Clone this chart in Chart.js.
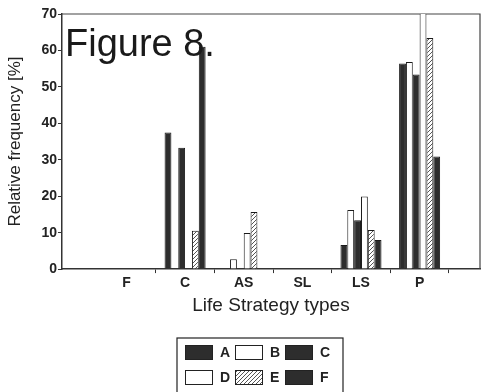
<!DOCTYPE html>
<html>
<head>
<meta charset="utf-8">
<script src="https://cdn.jsdelivr.net/npm/chart.js@4.4.1/dist/chart.umd.min.js"></script>
<style>
  html, body { margin: 0; padding: 0; background: #fff; }
</style>
</head>
<body>
<canvas id="lifeChart" width="483" height="392"></canvas>
<script>
const categories = ["F", "C", "AS", "SL", "LS", "P"];
const seriesNames = ["A", "B", "C", "D", "E", "F"];
const valuesA = [0, 37.5, 0, 0, 6.6, 56.4];
const valuesB = [0, 0, 2.7, 0, 16.2, 56.8];
const valuesC = [0, 33.3, 0, 0, 13.4, 53.4];
const valuesD = [0, 0, 9.9, 0, 19.9, 71];
const valuesE = [0, 10.5, 15.7, 0, 10.7, 63.4];
const valuesF = [0, 61, 0, 0, 8.0, 30.9];
const yTicks = [0, 10, 20, 30, 40, 50, 60, 70];

const FONT = '"Liberation Sans", Arial, sans-serif';
const INK = "#222";

// diagonal hatch used for series E
function hatch() {
  const c = document.createElement("canvas");
  c.width = 4; c.height = 4;
  const g = c.getContext("2d");
  g.fillStyle = "#fff";
  g.fillRect(0, 0, 4, 4);
  g.strokeStyle = "#555";
  g.lineWidth = 1;
  g.beginPath();
  g.moveTo(0, 4); g.lineTo(4, 0);
  g.moveTo(-1, 1); g.lineTo(1, -1);
  g.moveTo(3, 5); g.lineTo(5, 3);
  g.stroke();
  return g.createPattern(c, "repeat");
}

const dark = "#2d2d2d";
const fills = [dark, "#fff", dark, "#fff", hatch(), dark];
const allValues = [valuesA, valuesB, valuesC, valuesD, valuesE, valuesF];

// top and right edges of the plot frame
const frame = {
  id: "frame",
  beforeDatasetsDraw(chart) {
    const { ctx, chartArea: a } = chart;
    ctx.save();
    ctx.strokeStyle = "#444";
    ctx.lineWidth = 1.2;
    ctx.beginPath();
    ctx.moveTo(a.left, a.top);
    ctx.lineTo(a.right, a.top);
    ctx.lineTo(a.right, a.bottom);
    ctx.stroke();
    ctx.restore();
  }
};

const figureLabel = {
  id: "figureLabel",
  afterDatasetsDraw(chart) {
    const { ctx, chartArea: a } = chart;
    ctx.save();
    ctx.fillStyle = "#1a1a1a";
    ctx.font = "38px " + FONT;
    ctx.textBaseline = "alphabetic";
    ctx.fillText("Figure 8.", a.left + 3, 56);
    ctx.restore();
  }
};

// boxed legend, 3 entries per row
const legendBox = {
  id: "legendBox",
  afterDraw(chart) {
    const ctx = chart.ctx;
    const x0 = 177, y0 = 338;
    ctx.save();
    ctx.strokeStyle = INK;
    ctx.lineWidth = 1.2;
    ctx.strokeRect(x0, y0, 166, 70);
    ctx.font = "bold 14px " + FONT;
    ctx.textBaseline = "middle";
    chart.data.datasets.forEach((ds, i) => {
      const bx = x0 + 8 + (i % 3) * 50;
      const by = y0 + 7 + Math.floor(i / 3) * 25;
      ctx.fillStyle = ds.backgroundColor;
      ctx.fillRect(bx, by, 27, 14);
      ctx.lineWidth = 1;
      ctx.strokeRect(bx + 0.5, by + 0.5, 27, 14);
      ctx.fillStyle = INK;
      ctx.fillText(ds.label, bx + 35, by + 8);
    });
    ctx.restore();
  }
};

new Chart(document.getElementById("lifeChart"), {
  type: "bar",
  data: {
    labels: categories.map((_, i) => i),
    datasets: seriesNames.map((name, i) => ({
      label: name,
      data: allValues[i],
      backgroundColor: fills[i],
      borderColor: "#1a1a1a",
      borderWidth: 1,
      barPercentage: 1,
      categoryPercentage: 0.7
    }))
  },
  options: {
    responsive: false,
    animation: false,
    devicePixelRatio: 1,
    layout: { padding: { top: 14, right: 3, bottom: 75, left: 5 } },
    plugins: { legend: { display: false }, tooltip: { enabled: false } },
    scales: {
      x: {
        type: "linear",
        min: -1.1,
        max: 6.03,
        offset: false,
        afterBuildTicks: s => { s.ticks = categories.map((_, i) => ({ value: i })); },
        ticks: {
          autoSkip: false,
          maxRotation: 0,
          padding: 1.5,
          color: INK,
          font: { family: FONT, size: 14, weight: "bold" },
          callback: v => categories[v]
        },
        grid: {
          offset: true,
          drawOnChartArea: false,
          tickLength: 4,
          tickColor: c => (c.index === 0 ? "rgba(0,0,0,0)" : "#333")
        },
        border: { color: "#333", width: 1.5 },
        title: {
          display: true,
          text: "Life Strategy types",
          color: INK,
          font: { family: FONT, size: 19 },
          padding: { top: 1.3, bottom: 0 }
        }
      },
      y: {
        min: 0,
        max: 70,
        afterBuildTicks: s => { s.ticks = yTicks.map(v => ({ value: v })); },
        ticks: {
          padding: 1,
          color: INK,
          font: { family: FONT, size: 14, weight: "bold" }
        },
        grid: { drawOnChartArea: false, tickLength: 4, color: "#333" },
        border: { color: "#333", width: 1.5 },
        title: {
          display: true,
          text: "Relative frequency [%]",
          color: INK,
          font: { family: FONT, size: 17 },
          padding: { top: 0, bottom: 15 }
        }
      }
    }
  },
  plugins: [frame, figureLabel, legendBox]
});
</script>
</body>
</html>
